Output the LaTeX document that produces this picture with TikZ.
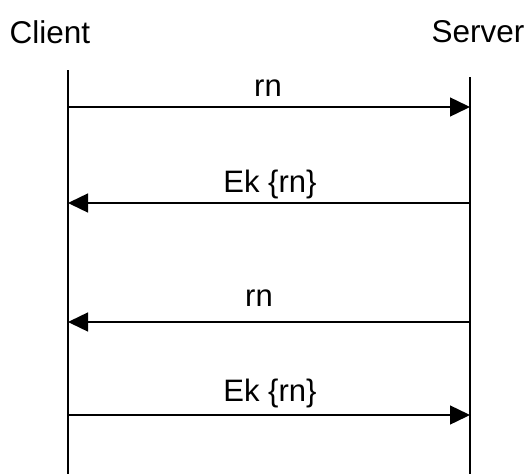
\documentclass[tikz,border=0pt]{standalone}
\usepackage{fontspec}
\setmainfont{Liberation Sans}
\usetikzlibrary{arrows.meta}
\begin{document}
\begin{tikzpicture}[x=1pt,y=-1pt,
  life/.style={line width=1.4pt},
  msg/.style={line width=1.4pt,-{Triangle[length=20pt,width=19pt]}},
  lbl/.style={font=\fontsize{31}{35}\selectfont,inner sep=0pt},
  head/.style={font=\fontsize{31.5}{36}\selectfont,inner sep=0pt}]
\useasboundingbox (0,0) rectangle (530,474);
\node[head] (client) at (50,32) {Client};
\node[head] (server) at (478,32) {Server};
\coordinate (ctop) at (68,70);
\coordinate (cbot) at (68,474);
\coordinate (stop) at (470,77);
\coordinate (sbot) at (470,474);
\draw[life] (ctop) -- (cbot);
\draw[life] (stop) -- (sbot);
\coordinate (c1) at (68,107); \coordinate (s1) at (470,107);
\coordinate (c2) at (68,203); \coordinate (s2) at (470,203);
\coordinate (c3) at (68,322); \coordinate (s3) at (470,322);
\coordinate (c4) at (68,415); \coordinate (s4) at (470,415);
\draw[msg] (c1) -- (s1);
\draw[msg] (s2) -- (c2);
\draw[msg] (s3) -- (c3);
\draw[msg] (c4) -- (s4);
\node[lbl] (l1) at (268,88) {rn};
\node[lbl] (l2) at (270,184) {Ek \{rn\}};
\node[lbl] (l3) at (259,298) {rn};
\node[lbl] (l4) at (270,393) {Ek \{rn\}};
\end{tikzpicture}
\end{document}
